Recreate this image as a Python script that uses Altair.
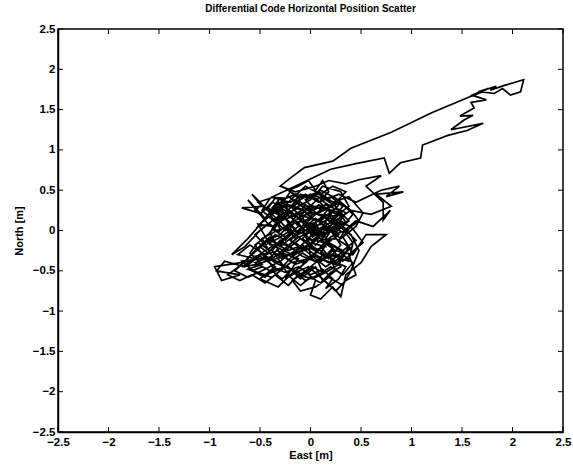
import altair as alt
import pandas as pd

# Path of horizontal position (East, North) in metres, in time order
east = [
    0.00, 0.12, 0.05, -0.10, -0.02, 0.15, 0.08, -0.15, -0.25, -0.08,
    0.10, 0.22, 0.05, -0.12, -0.30, -0.20, -0.35, -0.18, 0.00, 0.18,
    0.30, 0.20, 0.35, 0.25, 0.10, -0.05, -0.22, -0.40, -0.30, -0.48,
    -0.38, -0.55, -0.40, -0.22, -0.10, 0.05, 0.12, 0.25, 0.18, 0.38,
    0.42, 0.30, 0.12, -0.05, -0.18, -0.32, -0.45, -0.62, -0.52, -0.68,
    -0.48, -0.58, -0.42, -0.28, -0.15, -0.28, -0.45, -0.60, -0.80, -0.95,
    -0.88, -0.70, -0.93, -0.85, -0.65, -0.50, -0.35, -0.50, -0.32, -0.20,
    -0.05, 0.08, -0.08, 0.05, 0.18, 0.02, -0.15, 0.00, 0.15, 0.28,
    0.45, 0.70, 0.88, 0.75, 0.92, 0.65, 0.80, 0.60, 0.40, 0.22,
    0.10, 0.25, 0.42, 0.55, 0.75, 0.60, 0.50, 0.35, 0.30, 0.22,
    0.10, 0.00, 0.05, -0.08, -0.25, -0.12, -0.28, -0.15, 0.00, 0.15,
    0.28, 0.15, 0.30, 0.12, -0.02, -0.20, -0.35, -0.25, -0.39, -0.10,
    0.20, 0.45, 0.73, 0.78, 0.89, 1.09, 1.11, 1.36, 1.55, 1.71,
    1.39, 1.52, 1.61, 1.48, 1.62, 1.59, 1.74, 1.60, 1.76, 1.66,
    1.84, 1.78, 1.92, 2.11, 2.08, 1.98, 1.90, 1.82, 1.70, 1.56,
    1.20, 0.80, 0.40, 0.22, -0.06, -0.20, -0.30, -0.15, 0.05, 0.18,
    0.35, 0.48, 0.70, 0.55, 0.72, 0.72, 0.79, 0.62, 0.45, 0.32,
    0.18, 0.02, -0.12, -0.30, -0.45, -0.62, -0.75, -0.58, -0.42, -0.30,
    -0.18, -0.05, 0.08, 0.25, 0.38, 0.30, 0.12, 0.00, -0.15, -0.32,
    -0.42, -0.55, -0.42, -0.25, -0.10, 0.05, 0.20, 0.35, 0.25, 0.10,
    -0.05, -0.18, -0.10, 0.05, 0.18, 0.32, 0.40, 0.48, 0.40, 0.25,
    0.12, -0.02, -0.12, -0.25, -0.38, -0.52, -0.40, -0.22, -0.08, 0.08,
    0.22, 0.10, 0.20, 0.05, -0.10, -0.22, -0.35, -0.50, -0.65, -0.78,
    -0.62, -0.48, -0.30, -0.10, 0.02, 0.15, 0.30, 0.45, 0.52, 0.38,
    0.22, 0.08, -0.08, -0.20, -0.30, -0.18, -0.32, -0.48, -0.68, -0.55,
    -0.38, -0.20, -0.02, 0.12, 0.28, 0.15, 0.00, -0.12, -0.05, 0.05,
    0.15, 0.25, 0.18, 0.05, -0.08, -0.20, -0.12, -0.25, -0.38, -0.30,
    -0.42, -0.35, -0.20, -0.05, 0.08, 0.20, 0.32, 0.22, 0.35, 0.28,
    0.40, 0.30, 0.15, 0.05, -0.08, -0.20, -0.32, -0.45, -0.38, -0.25,
    -0.12, 0.00, 0.12, 0.22, 0.15, 0.28, 0.35, 0.22, 0.10, -0.02,
    -0.15, -0.28, -0.40, -0.52, -0.60, -0.48, -0.62, -0.45, -0.30, -0.18,
    -0.05, 0.08, -0.02, 0.12, 0.25, 0.38, 0.28, 0.15, 0.02, -0.10,
    -0.25, -0.38, -0.50, -0.42, -0.55, -0.45, -0.32, -0.20, -0.08, 0.05,
    0.18, 0.32, 0.45, 0.35, 0.48, 0.40, 0.25, 0.10, -0.02, -0.15,
    -0.28, -0.22, -0.35, -0.48, -0.40, -0.52, -0.38, -0.25, -0.12, -0.25,
    -0.38, -0.52, -0.68, -0.55, -0.72, -0.60, -0.48, -0.35, -0.20, -0.05,
    0.08, 0.20, 0.32, 0.42, 0.30, 0.18, 0.05, -0.08, -0.22, -0.35,
    -0.28, -0.15, -0.02, 0.10, 0.25, 0.35, 0.45, 0.38, 0.52, 0.42,
    0.30, 0.18, 0.05, -0.08, -0.18, -0.30, -0.18, -0.05, 0.10, 0.22,
    0.35, 0.25, 0.12, 0.00, -0.12, 0.00, 0.12, 0.25, 0.38, 0.28,
    0.15, 0.02, -0.12, -0.22, -0.35, -0.45, -0.58, -0.70, -0.82, -0.68,
    -0.55, -0.42, -0.30, -0.18, -0.05, 0.08, 0.20, 0.32, 0.42, 0.30,
    0.18, 0.05, -0.08, -0.22, -0.35, -0.28, -0.40, -0.30, -0.15, 0.00,
    -0.02, 0.06, -0.05, 0.04, -0.10, -0.18, -0.10, -0.22, -0.12, -0.02,
    0.05, 0.12, 0.18, 0.10, 0.20, 0.12, 0.22, 0.12, 0.02, -0.10,
    -0.20, -0.12, -0.22, -0.32, -0.40, -0.50, -0.42, -0.55, -0.48, -0.58,
    -0.45, -0.38, -0.28, -0.18, -0.08, 0.02, 0.12, 0.08, 0.18, 0.10,
    0.20, 0.30, 0.22, 0.30, 0.18, 0.08, -0.02, -0.12, -0.25, -0.32,
    -0.40, -0.48, -0.55, -0.45, -0.52, -0.40, -0.32, -0.22, -0.12, -0.02,
    0.08, 0.18, 0.10, 0.22, 0.30, 0.20, 0.10, 0.00, -0.10, -0.20,
    -0.30, -0.40, -0.32, -0.42, -0.35, -0.25, -0.15, -0.05, 0.05, 0.15,
    0.25, 0.35, 0.28, 0.40, 0.32, 0.42, 0.32, 0.22, 0.12, 0.02,
    -0.08, -0.18, -0.28, -0.38, -0.30, -0.20, -0.10, 0.00, 0.08, 0.00,
    -0.08, 0.02, -0.05, 0.08, 0.18, 0.28, 0.20, 0.28, 0.18, 0.05,
    -0.05, -0.15, -0.25, -0.35, -0.28, -0.38, -0.30, -0.20, -0.08, 0.02,
]
north = [
    0.00, -0.08, 0.10, 0.05, -0.15, -0.20, 0.02, -0.10, 0.05, 0.18,
    0.12, 0.25, 0.30, 0.20, 0.12, -0.05, -0.20, -0.30, -0.22, -0.35,
    -0.18, 0.00, 0.10, 0.30, 0.42, 0.25, 0.32, 0.20, 0.02, -0.10,
    -0.32, -0.40, -0.50, -0.45, -0.60, -0.45, -0.62, -0.50, -0.30, -0.38,
    -0.15, 0.05, -0.05, 0.08, 0.22, 0.35, 0.15, 0.38, 0.22, 0.28,
    0.30, 0.45, 0.25, 0.18, 0.02, -0.12, -0.25, -0.38, -0.42, -0.45,
    -0.62, -0.55, -0.50, -0.38, -0.45, -0.32, -0.45, -0.60, -0.70, -0.55,
    -0.40, -0.25, -0.10, 0.05, 0.15, 0.22, 0.35, 0.45, 0.38, 0.45,
    0.35, 0.50, 0.55, 0.42, 0.48, 0.45, 0.30, 0.20, 0.25, 0.10,
    -0.12, -0.25, -0.30, -0.05, -0.05, -0.20, -0.40, -0.55, -0.82, -0.70,
    -0.85, -0.80, -0.62, -0.48, -0.60, -0.35, -0.28, -0.15, -0.30, -0.45,
    -0.35, -0.10, 0.18, 0.28, 0.12, 0.10, 0.25, 0.40, 0.41, 0.58,
    0.76, 0.83, 0.90, 0.71, 0.84, 0.90, 1.06, 1.18, 1.24, 1.33,
    1.25, 1.37, 1.43, 1.42, 1.52, 1.59, 1.62, 1.68, 1.76, 1.72,
    1.79, 1.74, 1.80, 1.87, 1.72, 1.68, 1.76, 1.70, 1.72, 1.65,
    1.46, 1.22, 1.02, 0.86, 0.78, 0.65, 0.55, 0.48, 0.55, 0.62,
    0.58, 0.63, 0.68, 0.55, 0.35, 0.13, 0.25, 0.05, 0.12, -0.02,
    0.05, -0.05, -0.22, -0.38, -0.48, -0.58, -0.50, -0.30, -0.12, -0.05,
    0.12, 0.32, 0.20, 0.18, 0.30, 0.48, 0.55, 0.38, 0.28, 0.08,
    -0.05, -0.18, -0.38, -0.32, -0.25, -0.12, -0.18, -0.28, -0.42, -0.35,
    -0.50, -0.62, -0.75, -0.70, -0.58, -0.68, -0.50, -0.25, -0.05, 0.08,
    0.18, 0.02, -0.05, 0.15, 0.05, 0.08, -0.18, -0.18, -0.32, -0.40,
    -0.22, 0.00, 0.22, 0.40, 0.45, 0.25, 0.15, 0.00, -0.20, -0.30,
    -0.10, 0.10, 0.28, 0.15, -0.08, 0.05, -0.10, 0.05, 0.22, 0.42,
    0.35, 0.48, 0.40, 0.48, 0.30, -0.02, -0.15, -0.35, -0.38, -0.52,
    -0.58, -0.40, -0.35, -0.20, -0.05, 0.10, 0.15, 0.10, -0.05, -0.18,
    -0.05, 0.05, 0.20, 0.12, 0.25, 0.18, 0.05, -0.08, 0.02, 0.18,
    0.28, 0.40, 0.35, 0.45, 0.35, 0.42, 0.30, 0.15, 0.02, -0.12,
    -0.22, -0.32, -0.28, -0.38, -0.28, -0.38, -0.25, -0.30, -0.45, -0.52,
    -0.45, -0.55, -0.48, -0.60, -0.72, -0.60, -0.45, -0.38, -0.25, -0.18,
    -0.25, -0.15, -0.25, -0.15, -0.28, -0.42, -0.48, -0.55, -0.48, -0.32,
    -0.22, -0.10, 0.05, 0.08, -0.02, 0.12, 0.25, 0.32, 0.25, 0.35,
    0.28, 0.35, 0.20, 0.08, -0.05, -0.18, -0.10, 0.00, -0.12, -0.25,
    -0.15, -0.25, -0.12, 0.00, 0.12, 0.25, 0.40, 0.50, 0.40, 0.45,
    0.38, 0.22, 0.10, 0.25, 0.40, 0.35, 0.20, 0.05, -0.08, -0.22,
    -0.35, -0.42, -0.45, -0.35, -0.30, -0.18, -0.28, -0.40, -0.48, -0.62,
    -0.55, -0.45, -0.55, -0.40, -0.28, -0.40, -0.32, -0.40, -0.30, -0.30,
    -0.42, -0.52, -0.45, -0.58, -0.75, -0.62, -0.55, -0.30, -0.15, 0.02,
    0.12, 0.00, 0.15, 0.02, 0.15, 0.25, 0.40, 0.55, 0.45, 0.55,
    0.48, 0.35, 0.25, 0.32, 0.15, 0.00, -0.12, -0.10, -0.20, -0.42,
    -0.52, -0.60, -0.55, -0.68, -0.55, -0.65, -0.55, -0.62, -0.55, -0.42,
    -0.25, -0.10, -0.20, -0.08, 0.10, 0.02, 0.10, 0.05, 0.20, 0.35,
    0.28, 0.20, 0.30, 0.42, 0.30, 0.15, -0.02, -0.30, -0.42, -0.35,
    -0.10, 0.02, 0.12, 0.22, 0.18, 0.28, 0.38, 0.50, 0.55, 0.62,
    0.50, 0.62, 0.48, 0.38, 0.30, 0.18, 0.08, -0.02, -0.12, -0.02,
    -0.12, -0.20, -0.25, -0.18, -0.08, -0.20, -0.28, -0.32, -0.45, -0.50,
    -0.58, -0.50, -0.60, -0.48, -0.55, -0.45, -0.52, -0.40, -0.32, -0.20,
    -0.08, -0.02, 0.12, 0.22, 0.25, 0.32, 0.20, 0.28, 0.20, 0.30,
    0.22, 0.32, 0.25, 0.15, 0.05, 0.08, -0.02, 0.08, -0.02, 0.08,
    -0.02, -0.12, -0.28, -0.35, -0.45, -0.52, -0.65, -0.58, -0.68, -0.58,
    -0.40, -0.35, -0.22, -0.15, -0.05, -0.12, 0.00, -0.05, 0.10, 0.18,
    0.28, 0.22, 0.10, 0.05, -0.08, -0.28, -0.38, -0.25, -0.35, -0.28,
    -0.18, -0.28, -0.35, -0.25, -0.12, -0.20, -0.10, -0.18, -0.08, 0.05,
    0.15, 0.28, 0.38, 0.45, 0.38, 0.32, 0.20, 0.05, -0.02, -0.05,
    0.00, 0.10, 0.00, 0.12, 0.22, 0.28, 0.40, 0.30, 0.25, 0.15,
]

x_ticks = [-2.5, -2, -1.5, -1, -0.5, 0, 0.5, 1, 1.5, 2, 2.5]
y_ticks = [-2.5, -2, -1.5, -1, -0.5, 0, 0.5, 1, 1.5, 2, 2.5]

W, H = 505, 403
FONT = "Liberation Sans"

df = pd.DataFrame({"east": east, "north": north, "i": list(range(len(east)))})
xt = pd.DataFrame({"t": x_ticks})
yt = pd.DataFrame({"t": y_ticks})

xs = alt.Scale(domain=[-2.5, 2.5], nice=False, zero=False)
ys = alt.Scale(domain=[-2.5, 2.5], nice=False, zero=False)

common = dict(tickSize=0, labelFont=FONT, labelFontWeight="bold", labelFontSize=11.5,
              labelColor="black", titleFont=FONT, titleFontSize=11,
              titleFontWeight="bold", titleColor="black",
              domainColor="black", domainWidth=1.5, grid=False,
              labelFlush=False, labelOverlap=False, format="~g")
ax = alt.Axis(values=x_ticks, title="East [m]", labelPadding=4, titlePadding=2, **common)
ay = alt.Axis(values=y_ticks, title="North [m]", labelPadding=3, titlePadding=8, **common)

line = alt.Chart(df).mark_line(color="black", strokeWidth=1.7).encode(
    x=alt.X("east:Q", scale=xs, axis=ax),
    y=alt.Y("north:Q", scale=ys, axis=ay),
    order="i:Q",
)

tick_style = dict(color="black", strokeWidth=1)
xb = alt.Chart(xt).mark_rule(**tick_style).encode(
    x=alt.X("t:Q", scale=xs, axis=ax), y=alt.value(H), y2=alt.value(H - 5))
xtop = alt.Chart(xt).mark_rule(**tick_style).encode(
    x=alt.X("t:Q", scale=xs, axis=ax), y=alt.value(0), y2=alt.value(5))
yl = alt.Chart(yt).mark_rule(**tick_style).encode(
    y=alt.Y("t:Q", scale=ys, axis=ay), x=alt.value(0), x2=alt.value(5))
yr = alt.Chart(yt).mark_rule(**tick_style).encode(
    y=alt.Y("t:Q", scale=ys, axis=ay), x=alt.value(W), x2=alt.value(W - 5))

chart = alt.layer(line, xb, xtop, yl, yr).properties(
    width=W, height=H,
    title=alt.TitleParams("Differential Code Horizontal Position Scatter",
                          font=FONT, fontSize=10, fontWeight="bold",
                          color="black", anchor="middle", offset=9),
    autosize=alt.AutoSizeParams(type="none"),
    padding={"left": 58, "top": 29, "right": 10, "bottom": 38},
    background="white",
).configure_view(stroke="black", strokeWidth=1.5)

chart.save("out.html", embed_options={"renderer": "svg", "actions": False})
